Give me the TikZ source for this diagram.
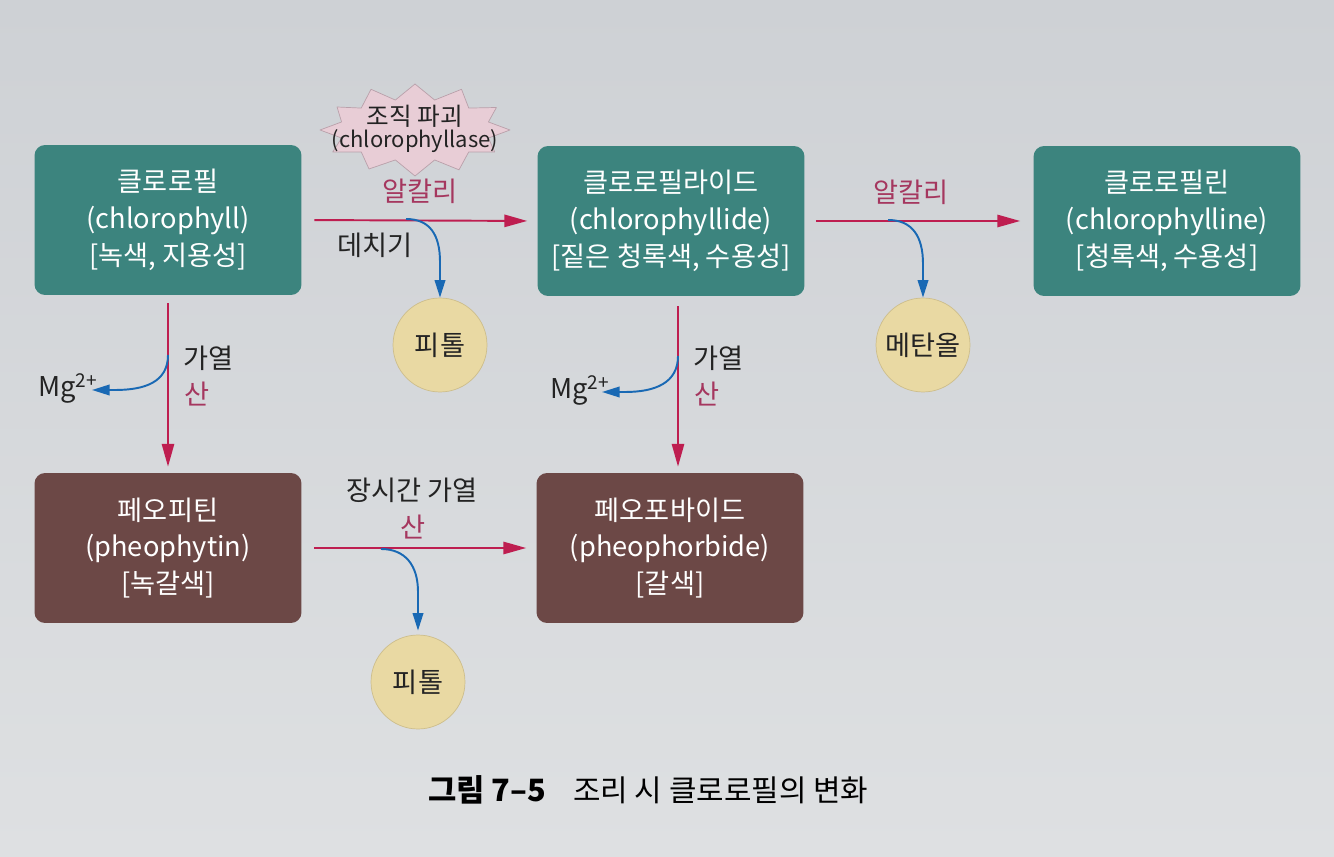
\documentclass[tikz,border=0pt]{standalone}
\usepackage{fontspec}
\newfontfamily\kr{Noto Sans CJK KR}
\usetikzlibrary{arrows.meta}
\definecolor{papertop}{RGB}{206,209,213}
\definecolor{paperbot}{RGB}{222,224,226}
\definecolor{boxteal}{RGB}{60,132,126}
\definecolor{boxbrown}{RGB}{108,72,70}
\definecolor{cream}{RGB}{233,217,163}
\definecolor{creamline}{RGB}{205,190,140}
\definecolor{burstpink}{RGB}{232,205,214}
\definecolor{burstline}{RGB}{185,160,170}
\definecolor{arrowpink}{RGB}{190,30,80}
\definecolor{labelpink}{RGB}{165,55,95}
\definecolor{arrowblue}{RGB}{25,105,180}
\definecolor{labelgray}{RGB}{35,35,35}
\begin{document}
\begin{tikzpicture}[x=0.02cm,y=-0.02cm,
  tbox/.style={rounded corners=6pt, minimum width=5.34cm, minimum height=3.0cm,
    align=center, text=white, font=\kr\fontsize{15.5}{21}\selectfont, inner sep=0pt},
  greenbox/.style={tbox, fill=boxteal},
  brownbox/.style={tbox, fill=boxbrown},
  prod/.style={circle, fill=cream, draw=creamline, line width=0.4pt, minimum size=1.88cm,
    inner sep=0pt, font=\kr\fontsize{15.5}{18}\selectfont, text=labelgray},
  lab/.style={font=\kr\fontsize{15.5}{18}\selectfont, text=labelgray, inner sep=0pt},
  plab/.style={lab, text=labelpink},
  burstshape/.style={fill=burstpink, draw=burstline, line width=0.4pt, line join=round},
  pa/.style={draw=arrowpink, line width=1.1pt, -{Triangle[length=13pt,width=7pt]}},
  ba/.style={draw=arrowblue, line width=1.1pt, -{Triangle[length=10pt,width=6pt]}}
]
\useasboundingbox (0,0) rectangle (1334,857);
\fill[top color=papertop, bottom color=paperbot] (0,0) rectangle (1334,857);

% boxes
\node[greenbox] (chl)   at (168,220)  {클로로필\\(chlorophyll)\\{}[녹색, 지용성]};
\node[greenbox] (chlid) at (671,221)  {클로로필라이드\\(chlorophyllide)\\{}[짙은 청록색, 수용성]};
\node[greenbox] (chlin) at (1167,221) {클로로필린\\(chlorophylline)\\{}[청록색, 수용성]};
\node[brownbox] (pheo)  at (168,548)  {페오피틴\\(pheophytin)\\{}[녹갈색]};
\node[brownbox] (pheob) at (670,548)  {페오포바이드\\(pheophorbide)\\{}[갈색]};

% burst
\coordinate (bc) at (415,130);
\filldraw[burstshape] (bc) +(95,0)
  \foreach \a/\rx/\ry in {15/76/31, 30/92/44, 45/76/31, 60/88/46, 75/76/31, 90/90/46,
      105/76/31, 120/92/45, 135/76/31, 150/95/44, 165/76/31, 180/95/43, 195/76/31,
      210/90/46, 225/76/31, 240/88/47, 255/76/31, 270/90/46, 285/76/31, 300/93/47,
      315/76/31, 330/94/45, 345/76/31}
  { -- +({\rx*cos(\a)},{\ry*sin(\a)}) } -- cycle;
\node[lab, font=\kr\fontsize{14}{17}\selectfont] (bt1) at (415,116) {조직 파괴};
\node[lab, font=\kr\fontsize{12.5}{15}\selectfont] (bt2) at (415,141) {(chlorophyllase)};

% product circles
\node[prod] (p1) at (440,345) {피톨};
\node[prod] (p2) at (923,345) {메탄올};
\node[prod] (p3) at (418,682) {피톨};

% main arrows
\draw[pa, shorten <=0.25cm, shorten >=0.2cm] (chl.east) -- (chlid.west);
\draw[pa, shorten <=0.22cm, shorten >=0.26cm] (chlid.east) -- (chlin.west);
\draw[pa, shorten <=0.25cm, shorten >=0.2cm] (pheo.east) -- (pheob.west);
\draw[pa, shorten <=0.16cm, shorten >=0.12cm] (chl.south) -- (pheo.north);
\draw[pa, shorten <=0.2cm, shorten >=0.12cm] ([xshift=0.14cm]chlid.south) -- ([xshift=0.16cm]pheob.north);

% branch points
\coordinate (j1) at (406,219);
\coordinate (j2) at (888,220);
\coordinate (j3) at (381,549);
\coordinate (j4) at (168,355);
\coordinate (j5) at (678,356);
\coordinate (mgtip1) at (92,390);
\coordinate (mgtip2) at (602,392);

\draw[ba] (j1) .. controls (430,219) and (440,235) .. (440,262) -- (p1.north);
\draw[ba] (j2) .. controls (912,220) and (923,236) .. (923,264) -- (p2.north);
\draw[ba, shorten >=0.08cm] (j3) .. controls (405,549) and (418,565) .. (418,592) -- (p3.north);
\draw[ba] (j4) .. controls (168,382) and (145,390) .. (115,390) -- (mgtip1);
\draw[ba] (j5) .. controls (678,383) and (655,392) .. (625,392) -- (mgtip2);

% labels
\node[plab] (a1) at (420,191) {알칼리};
\node[lab]  (d1) at (375,245) {데치기};
\node[plab] (a2) at (911,192) {알칼리};
\node[lab, anchor=west] (h1) at (183,358) {가열};
\node[plab, anchor=west] (s1) at (184,394) {산};
\node[lab, anchor=west] (h2) at (693,358) {가열};
\node[plab, anchor=west] (s2) at (694,394) {산};
\node[lab]  (h3) at (412,490) {장시간 가열};
\node[plab] (s3) at (413,527) {산};
\node[lab, anchor=base west] (mg1) at (38,397) {Mg\textsuperscript{2+}};
\node[lab, anchor=base west] (mg2) at (550,399) {Mg\textsuperscript{2+}};

% caption
\node[lab, anchor=west, font=\kr\bfseries\fontsize{17.5}{20}\selectfont, text=black] (capa) at (428,790) {그림 7–5};
\node[lab, anchor=west, font=\kr\fontsize{17}{20}\selectfont, text=black] (capb) at (573,790) {조리 시 클로로필의 변화};
\end{tikzpicture}
\end{document}
